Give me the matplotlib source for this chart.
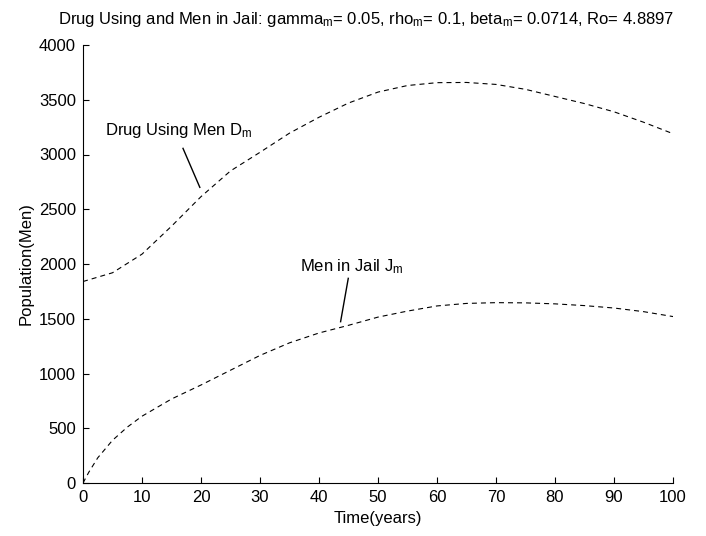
import numpy as np
import matplotlib
matplotlib.use("Agg")
import matplotlib.pyplot as plt

plt.rcParams['font.family'] = ['Liberation Sans', 'DejaVu Sans']
plt.rcParams['mathtext.default'] = 'regular'
plt.rcParams['lines.scale_dashes'] = False

# values
t_drug = [0, 5, 10, 15, 20, 25, 30, 35, 40, 45, 50,
          55, 60, 65, 70, 75, 80, 85, 90, 95, 100]
drug_men = [1840, 1920, 2090, 2345, 2615, 2850, 3020, 3195, 3340, 3470, 3570,
            3630, 3656, 3658, 3640, 3595, 3530, 3465, 3390, 3295, 3190]

t_jail = [0, 1, 2.5, 5, 7.5, 10, 15, 20, 25, 30, 35, 40, 45, 50,
          55, 60, 65, 70, 75, 80, 85, 90, 95, 100]
jail_men = [0, 100, 230, 390, 510, 610, 767, 895, 1030, 1165, 1280, 1370, 1440, 1515,
            1570, 1617, 1640, 1647, 1645, 1636, 1620, 1598, 1565, 1520]

xticks = np.arange(0, 101, 10)
yticks = np.arange(0, 4001, 500)

title = ("Drug Using and Men in Jail: gamma$_m$= 0.05, rho$_m$= 0.1, "
         "beta$_m$= 0.0714, Ro= 4.8897")

fig = plt.figure(figsize=(7.06, 5.36), dpi=100)
ax = fig.add_axes([83/706, 1-483/536, 590/706, 438/536])

dash = (0, (3.6, 2.9))
ax.plot(t_drug, drug_men, color='black', lw=0.8, linestyle=dash)
ax.plot(t_jail, jail_men, color='black', lw=0.8, linestyle=dash)

# labels with pointer lines
ax.text(3.7, 3178, "Drug Using Men D$_m$", fontsize=12, ha='left', va='baseline')
ax.plot([16.95, 19.8], [3056, 2700], color='black', lw=1)
ax.text(36.8, 1930, "Men in Jail J$_m$", fontsize=12, ha='left', va='baseline')
ax.plot([44.96, 43.66], [1869, 1473], color='black', lw=1)

ax.set_xlim(0, 100)
ax.set_ylim(0, 4000)
ax.set_xticks(xticks)
ax.set_yticks(yticks)
ax.tick_params(direction='in', length=4.3, width=0.8, labelsize=12, pad=5)
ax.spines['top'].set_visible(False)
ax.spines['right'].set_visible(False)
for s in ['left', 'bottom']:
    ax.spines[s].set_linewidth(0.8)

ax.set_xlabel("Time(years)", fontsize=12, labelpad=4)
ax.set_ylabel("Population(Men)", fontsize=12, labelpad=4)
ax.set_title(title, fontsize=12, pad=15, x=0.48)

fig.savefig("out.png", dpi=100)
